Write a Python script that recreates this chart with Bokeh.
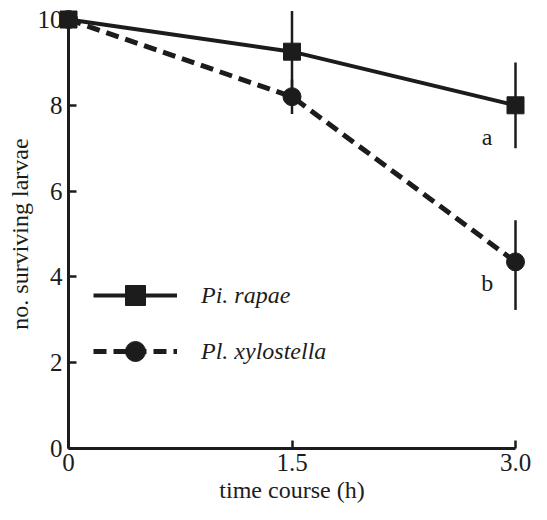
from bokeh.plotting import figure
from bokeh.models import Range1d, FixedTicker, Legend, LegendItem
from bokeh.core.properties import value
from bokeh.embed import file_html
from bokeh.resources import INLINE

# ---- data ----
times = [0, 1.5, 3.0]
rapae_mean = [10.0, 9.25, 8.0]
rapae_lower = [10.0, 8.3, 7.0]
rapae_upper = [10.0, 10.2, 9.0]
xylo_mean = [10.0, 8.2, 4.35]
xylo_lower = [10.0, 7.8, 3.23]
xylo_upper = [10.0, 8.6, 5.32]
x_ticks = [0, 1.5, 3.0]
x_tick_labels = ["0", "1.5", "3.0"]
y_ticks = [0, 2, 4, 6, 8, 10]
sig_letters = ["a", "b"]
sig_x = [2.81, 2.81]
sig_y = [7.27, 3.86]
series_names = ["Pi. rapae", "Pl. xylostella"]

INK = "#1c1c1c"
SERIF = "Liberation Serif, Times New Roman, serif"

# frame covers the whole canvas; axes sit at data 0 (so nothing gets clipped)
p = figure(width=531, height=504, output_backend="svg", toolbar_location=None,
           title=None,
           x_range=Range1d(-0.45638, 3.10738), y_range=Range1d(-1.3054, 10.4429),
           min_border_left=0, min_border_right=0, min_border_top=0,
           min_border_bottom=0)
p.outline_line_color = None
p.xgrid.visible = False
p.ygrid.visible = False
p.background_fill_color = "white"

# axes
p.xaxis.fixed_location = 0
p.yaxis.fixed_location = 0
p.xaxis.bounds = (0, 3)
p.yaxis.bounds = (0, 10)
p.xaxis.ticker = FixedTicker(ticks=x_ticks)
p.yaxis.ticker = FixedTicker(ticks=y_ticks)
p.xaxis.major_label_overrides = {t: l for t, l in zip(x_ticks, x_tick_labels)}
p.xaxis.axis_label = "time course (h)"
p.yaxis.axis_label = "no. surviving larvae"
for ax in (p.xaxis, p.yaxis):
    ax.axis_line_color = INK
    ax.axis_line_width = 3
    ax.major_tick_line_color = INK
    ax.major_tick_line_width = 2.5
    ax.major_tick_in = 8
    ax.major_tick_out = 0
    ax.minor_tick_line_color = None
    ax.major_label_text_font = SERIF
    ax.major_label_text_font_size = "25px"
    ax.major_label_text_color = INK
    ax.axis_label_text_font = SERIF
    ax.axis_label_text_font_size = "24px"
    ax.axis_label_text_font_style = "normal"
    ax.axis_label_text_color = INK
p.xaxis.major_label_standoff = 6
p.yaxis.major_label_standoff = 6
p.xaxis.axis_label_standoff = 2
p.yaxis.axis_label_standoff = 2

# lines
l1 = p.line(times, rapae_mean, line_color=INK, line_width=4)
l2 = p.line(times, xylo_mean, line_color=INK, line_width=5, line_dash="13 7")

# error bars
p.segment(x0=times, y0=rapae_lower, x1=times, y1=rapae_upper,
          line_color=INK, line_width=2.5)
p.segment(x0=times, y0=xylo_lower, x1=times, y1=xylo_upper,
          line_color=INK, line_width=2.5)

# markers
s1 = p.scatter(times, rapae_mean, marker="square", size=17,
               fill_color=INK, line_color=INK)
s2 = p.scatter(times, xylo_mean, marker="circle", size=18,
               fill_color=INK, line_color=INK)

# significance letters
p.text(x=sig_x, y=sig_y, text=sig_letters, text_font=value(SERIF),
       text_font_size="24px", text_align="center", text_baseline="alphabetic",
       text_color=INK)

legend = Legend(items=[LegendItem(label=series_names[0], renderers=[l1, s1]),
                       LegendItem(label=series_names[1], renderers=[l2, s2])],
                location=(93, 128), orientation="vertical",
                glyph_width=84, glyph_height=50, label_height=26,
                spacing=6, padding=0, margin=0, label_standoff=24,
                border_line_color=None, background_fill_alpha=0,
                label_text_font=SERIF, label_text_font_style="italic",
                label_text_font_size="24px", label_text_color=INK)
p.add_layout(legend)

open("out.html", "w").write(file_html(p, INLINE))
